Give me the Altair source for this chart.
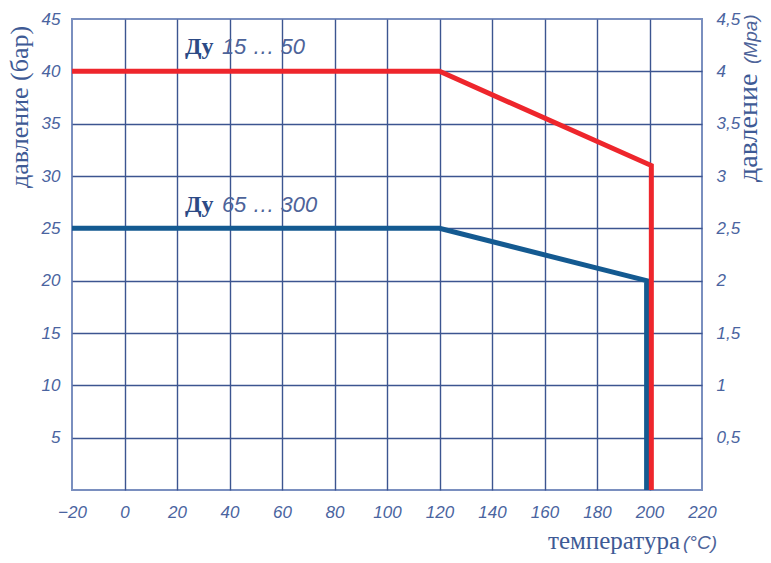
import altair as alt
import pandas as pd

# ---- data ----
temp_small = [-20, 120, 200.7, 200.7]
pres_small = [40, 40, 31, 0]
temp_large = [-20, 120, 198.9, 198.9]
pres_large = [25, 25, 20, 0]
series_names = ["Ду 15 … 50", "Ду 65 … 300"]
series_colors = ["#ee262c", "#145a91"]

x_ticks = list(range(-20, 221, 20))
y_ticks = list(range(5, 46, 5))

# annotation anchors (data coords)
ann_x = [23.0, 23.0]
ann_y = [41.7, 26.6]
ann_num = ["15 … 50", "65 … 300"]

rows = []
for i, (t, p) in enumerate(zip(temp_large, pres_large)):
    rows.append({"series": series_names[1], "t": t, "p": p, "i": i})
for i, (t, p) in enumerate(zip(temp_small, pres_small)):
    rows.append({"series": series_names[0], "t": t, "p": p, "i": i})
df = pd.DataFrame(rows)

ann = pd.DataFrame({"x": ann_x, "y": ann_y, "num": ann_num})

FONT_N = "Liberation Sans Narrow, Arial Narrow, Liberation Sans, sans-serif"
FONT_S = "Liberation Serif, Times New Roman, serif"
LBL = "#4a64a0"
GRID = "#3c5590"
LS = 17

xs = alt.Scale(domain=[-20, 220], nice=False, zero=False)
ys = alt.Scale(domain=[0, 45], nice=False, zero=False)

x_axis = alt.Axis(values=x_ticks, title=None, domain=False, ticks=False, tickSize=0,
                  labelFont=FONT_N, labelFontSize=LS, labelFontStyle="italic",
                  labelColor=LBL, labelPadding=14, labelFlush=False,
                  grid=True, gridColor=GRID, gridWidth=1.4,
                  gridOpacity={"condition": {"test": "datum.value <= -20 || datum.value >= 220", "value": 0}, "value": 1})
yl_axis = alt.Axis(values=y_ticks, title=None, domain=False, ticks=False, tickSize=0, orient="left",
                   labelFont=FONT_N, labelFontSize=LS, labelFontStyle="italic",
                   labelColor=LBL, labelPadding=12, labelFlush=False,
                   grid=True, gridColor=GRID, gridWidth=1.4,
                   gridOpacity={"condition": {"test": "datum.value >= 45", "value": 0}, "value": 1})
yr_axis = alt.Axis(values=y_ticks, title=None, domain=False, ticks=False, tickSize=0, orient="right",
                   labelFont=FONT_N, labelFontSize=LS, labelFontStyle="italic",
                   labelColor=LBL, labelPadding=14, labelFlush=False, grid=False,
                   labelExpr="replace(format(datum.value / 10, '.1~f'), '.', ',')")

lines = alt.Chart(df).mark_line(strokeWidth=5, strokeJoin="miter", strokeCap="butt").encode(
    x=alt.X("t:Q", scale=xs, axis=x_axis),
    y=alt.Y("p:Q", scale=ys, axis=yl_axis),
    color=alt.Color("series:N", scale=alt.Scale(domain=series_names, range=series_colors), legend=None),
    order="i:Q",
)

right = alt.Chart(df).mark_point(opacity=0).encode(
    x=alt.X("t:Q", scale=xs, axis=x_axis),
    y=alt.Y("p:Q", scale=ys, axis=yr_axis),
)

ann_du = alt.Chart(ann).mark_text(text="Ду", font=FONT_S, fontSize=24, fontWeight="bold",
                                  color="#2c4a85", align="left", baseline="alphabetic").encode(
    x=alt.X("x:Q", scale=xs, axis=x_axis), y=alt.Y("y:Q", scale=ys, axis=None))
ann_n = alt.Chart(ann).mark_text(font=FONT_N, fontSize=22, fontStyle="italic",
                                 color="#4d6399", align="left", baseline="alphabetic", dx=37).encode(
    x=alt.X("x:Q", scale=xs, axis=x_axis), y=alt.Y("y:Q", scale=ys, axis=None), text="num:N")

one = pd.DataFrame({"a": [0]})
def txt(text, x, y, font, size, style="normal", align="left", angle=0, color="#3e5a95"):
    return alt.Chart(one).mark_text(text=text, font=font, fontSize=size, fontStyle=style,
                                    align=align, baseline="alphabetic", angle=angle,
                                    color=color).encode(x=alt.value(x), y=alt.value(y))

t_left = txt("давление (бар)", -44, 169, FONT_S, 26, angle=270)
t_right1 = txt("давление", 685, 163, FONT_S, 28, align="left", angle=270)
t_right2 = txt("(Mpa)", 685, 45, FONT_N, 19, style="italic", align="left", angle=270, color="#4d6399")
t_bot1 = txt("температура", 608, 530, FONT_S, 25, align="right")
t_bot2 = txt("(°C)", 611, 530, FONT_N, 19, style="italic", align="left", color="#4d6399")

chart = alt.layer(lines, right, ann_du, ann_n, t_left, t_right1, t_right2, t_bot1, t_bot2).resolve_axis(
    y="independent"
).properties(
    width=630, height=471,
    autosize=alt.AutoSizeParams(type="none"),
    padding={"left": 64, "top": 11, "right": 61, "bottom": 65},
    background="white",
).configure_view(stroke="#7a8fbf", strokeWidth=2)

chart.save("out.html", embed_options={"renderer": "svg", "actions": False})
